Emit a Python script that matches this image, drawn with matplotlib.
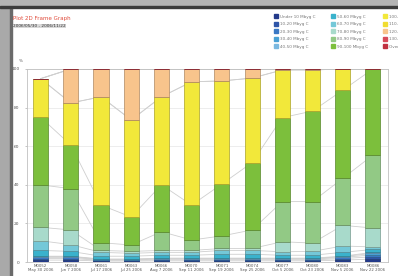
import numpy as np
import matplotlib.pyplot as plt
from matplotlib.patches import Rectangle
from matplotlib.lines import Line2D
import matplotlib.colors as mcolors

# data (percent of time per class, one value per survey date)
dates = ["May 30 2006", "Jun 7 2006", "Jul 17 2006", "Jul 25 2006", "Aug 7 2006",
         "Sep 11 2006", "Sep 19 2006", "Sep 25 2006", "Oct 5 2006", "Oct 23 2006",
         "Nov 5 2006", "Nov 22 2006"]
codes = ["M0052", "M0058", "M0061", "M0063", "M0066", "M0070",
         "M0071", "M0074", "M0077", "M0080", "M0083", "M0086"]

labels = ["Under 10 Mbyg C", "10-20 Mbyg C", "20-30 Mbyg C", "30-40 Mbyg C", "40-50 Mbyg C",
          "50-60 Mbyg C", "60-70 Mbyg C", "70-80 Mbyg C", "80-90 Mbyg C", "90-100 Mbyg C",
          "100-110 Mbyg C", "110-120 Mbyg C", "120-130 Mbyg C", "130-140 Mbyg C", "Over 140 Mbyg C"]

c1 = [1.0, 1.0, 0.5, 0.5, 0.6, 0.6, 0.6, 0.6, 0.6, 0.6, 1.0, 1.5]
c2 = [0.8, 0.8, 0.4, 0.4, 0.5, 0.5, 0.5, 0.5, 0.5, 0.5, 0.8, 1.2]
c3 = [0.6, 0.6, 0.3, 0.3, 0.4, 0.4, 0.4, 0.4, 0.4, 0.4, 0.6, 1.0]
c4 = [0.4, 0.4, 0.2, 0.2, 0.3, 0.3, 0.3, 0.3, 0.3, 0.3, 0.4, 0.8]
c5 = [0.2, 0.2, 0.1, 0.1, 0.2, 0.2, 0.2, 0.2, 0.2, 0.2, 0.2, 0.5]
c6 = [3.0, 2.5, 1.5, 1.5, 1.5, 1.5, 2.0, 2.0, 1.5, 1.5, 2.0, 1.5]
c7 = [5.0, 3.5, 2.0, 1.5, 1.5, 1.5, 2.0, 2.0, 1.8, 2.0, 3.3, 1.3]
c8 = [7.0, 7.6, 1.0, 1.0, 1.0, 1.0, 1.0, 1.0, 5.2, 4.3, 10.7, 9.8]
c9 = [22.0, 21.4, 4.0, 3.3, 9.7, 5.4, 6.5, 9.6, 20.8, 21.5, 24.3, 37.8]
c10 = [35.0, 22.6, 19.5, 14.5, 24.3, 18.1, 26.9, 34.9, 43.5, 46.9, 45.7, 44.6]
c11 = [20.0, 21.8, 56.1, 50.3, 45.6, 63.9, 53.4, 43.8, 24.7, 21.3, 11.0, 0.0]
c12 = [0.0] * 12
c13 = [0.0, 17.6, 14.4, 26.4, 14.4, 6.6, 6.2, 4.7, 0.5, 0.5, 0.0, 0.0]
c14 = [0.0] * 12
c15 = [0.0] * 12

series = [c1, c2, c3, c4, c5, c6, c7, c8, c9, c10, c11, c12, c13, c14, c15]
colors = ["#233a8a", "#2f55a8", "#3a78c4", "#48a0d4", "#7ab8e0",
          "#3ab2cc", "#74c8d8", "#a8dacb", "#92c985", "#7cbf3c",
          "#f2e83a", "#f0dc30", "#f8c48c", "#d84a58", "#c03040"]

W, H = 398, 276
fig = plt.figure(figsize=(W / 100, H / 100), dpi=100)
fig.patch.set_facecolor("white")

# screenshot frame
fig.patches.append(Rectangle((0, 0), 11 / W, 1, transform=fig.transFigure, color="#a9a9a9", zorder=0))
fig.patches.append(Rectangle((10 / W, 0), 1.5 / W, 1, transform=fig.transFigure, color="#6a6a6a", zorder=0))
fig.patches.append(Rectangle((0, 1 - 7 / H), 1, 7 / H, transform=fig.transFigure, color="#b4b4b4", zorder=0))
fig.patches.append(Rectangle((0, 1 - 8 / H), 1, 2 / H, transform=fig.transFigure, color="#3c3c3c", zorder=0))

ax = fig.add_axes([27 / W, 14 / H, (388 - 27) / W, (262 - 69) / H])
x = np.arange(len(dates))
width = 0.5

bottom = np.zeros(len(dates))
handles = []
for vals, col, lab in zip(series, colors, labels):
    vals = np.array(vals)
    edge = tuple(np.array(mcolors.to_rgb(col)) * 0.7)
    ax.bar(x, vals, width, bottom=bottom, color=col, edgecolor=edge, linewidth=0.5, zorder=3)
    top = bottom + vals
    ax.plot(x, top, color="#cfcfcf", linewidth=0.6, zorder=2)
    bottom = top
    handles.append(Line2D([], [], marker="s", linestyle="none", markersize=2.2,
                          markerfacecolor=col, markeredgecolor=col, label=lab))

ax.set_xlim(-0.45, 11.5)
ax.set_ylim(0, 100)
ax.set_yticks([0, 20, 40, 60, 80, 100])
ax.set_xticks(x)
ax.set_xticklabels([c + "\n" + d for c, d in zip(codes, dates)], fontsize=2.8, color="#555555",
                   linespacing=1.1)
ax.tick_params(axis="y", labelsize=3.2, labelcolor="#555555", length=1.5, width=0.4, color="#999999", pad=4)
ax.tick_params(axis="x", length=0, pad=1.5)
ax.grid(axis="y", color="#e6e6e6", linewidth=0.5, zorder=0)
for s in ax.spines.values():
    s.set_color("#c0c0c0")
    s.set_linewidth(0.6)
ax.text(-0.012, 1.035, "%", transform=ax.transAxes, fontsize=3, color="#555555", ha="right")

# title block
fig.text(13 / W, 1 - 20 / H, "Plot 2D Frame Graph", fontsize=4.0, color="#e04a3a")
fig.text(13 / W, 1 - 27 / H, "2006/05/30 - 2006/11/22", fontsize=3.1, color="#333333",
         bbox=dict(facecolor="#d8d8d8", edgecolor="none", pad=0.3))

leg = fig.legend(handles=handles, ncol=3, loc="upper left", bbox_to_anchor=(273 / W, 1 - 13 / H),
                 fontsize=3.0, frameon=False, handlelength=0.8, handletextpad=0.6,
                 columnspacing=3.6, labelspacing=0.85, borderaxespad=0, labelcolor="#777777")

plt.savefig("out.png", dpi=100)
